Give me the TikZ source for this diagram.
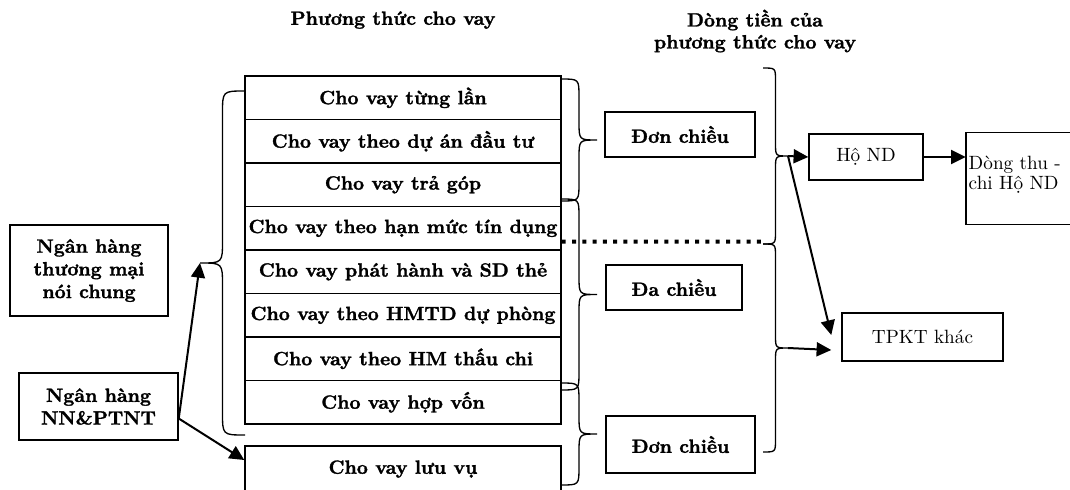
\documentclass[tikz,border=0pt]{standalone}
\usepackage{fontspec}
\setmainfont{lmroman10-regular.otf}[BoldFont=lmroman10-bold.otf,FakeStretch=1.0,BoldFeatures={FakeBold=1.5}]
\usetikzlibrary{arrows.meta}
\tikzset{
  box/.style={draw, line width=1.1pt, inner sep=0pt, align=center, font=\fontsize{14.4}{17}\selectfont\bfseries},
  nbox/.style={draw, line width=1.1pt, inner sep=0pt, align=center, font=\fontsize{14.4}{15}\selectfont},
  row/.style={box, minimum width=237pt, minimum height=32.625pt},
  ttl/.style={align=center, inner sep=0pt, font=\fontsize{14.4}{16.5}\selectfont\bfseries},
  brace/.style={line width=1pt},
  conn/.style={line width=1.5pt, -{Triangle[length=11pt,width=10.5pt]}},
  dotline/.style={line width=3pt, dash pattern=on 3pt off 4.7pt},
}
\newcommand{\MyBrace}[5]{%
  \pgfmathsetmacro{\bxv}{(#1+#4)/2}%
  \pgfmathsetmacro{\bym}{(#2+#3)/2}%
  \pgfmathsetmacro{\br}{abs(#4-#1)/2}%
  \draw[brace] (#1,#2) .. controls ({\bxv},#2) .. ({\bxv},{#2+\br}) -- ({\bxv},{\bym-\br})
     .. controls ({\bxv},{\bym}) .. (#4,{\bym}) .. controls ({\bxv},{\bym}) .. ({\bxv},{\bym+\br})
     -- ({\bxv},{#3-\br}) .. controls ({\bxv},#3) .. (#1,#3);
  \coordinate (#5) at (#4,{\bym});}
\begin{document}
\begin{tikzpicture}[x=0.75pt,y=-0.75pt]
\useasboundingbox (0,0) rectangle (1070,489);
\clip (0,0) rectangle (1070,489);
% titles
\node[ttl] (t1) at (393,20) {Phương thức cho vay};
\node[ttl] (t2) at (755,31) {Dòng tiền của\\phương thức cho vay};
% banks
\node[box, minimum width=118.5pt, minimum height=68.25pt] (tm) at (89,270.5) {Ngân hàng\\thương mại\\nói chung};
\node[box, minimum width=119.25pt, minimum height=50.25pt] (nn) at (98.5,406.5) {Ngân hàng\\NN\&PTNT};
% table rows
\node[row] (r1) at (403,97.75) {Cho vay từng lần};
\node[row] (r2) at (403,141.25) {Cho vay theo dự án đầu tư};
\node[row] (r3) at (403,184.75) {Cho vay trả góp};
\node[row] (r4) at (403,228.25) {Cho vay theo hạn mức tín dụng};
\node[row] (r5) at (403,271.75) {Cho vay phát hành và SD thẻ};
\node[row] (r6) at (403,315.25) {Cho vay theo HMTD dự phòng};
\node[row] (r7) at (403,358.75) {Cho vay theo HM thấu chi};
\node[row] (r8) at (403,402.25) {Cho vay hợp vốn};
\node[box, minimum width=237pt, minimum height=34.5pt] (r9) at (403,469) {Cho vay lưu vụ};
% flow type boxes
\node[box, minimum width=112.5pt, minimum height=33.75pt] (d1) at (680,134.5) {Đơn chiều};
\node[box, minimum width=102pt, minimum height=33.75pt] (da) at (674,287.5) {Đa chiều};
\node[box, minimum width=111.75pt, minimum height=42.75pt] (d2) at (680.5,444.5) {Đơn chiều};
% recipients
\node[nbox, minimum width=85.5pt, minimum height=34.5pt] (hond) at (866,157) {Hộ ND};
\node[nbox, minimum width=120.75pt, minimum height=36pt] (tpkt) at (922.5,337) {TPKT khác};
\node[inner sep=0pt, minimum width=130pt, minimum height=68.25pt] (dt) at (1052.7,178.5) {};
\draw[line width=1.1pt] (dt.north east) -- (dt.north west) -- (dt.south west) -- (dt.south east);
\node[nbox, draw=none, anchor=north west, align=left, inner sep=0pt] (dttext) at (968,155) {Dòng thu -\\chi Hộ ND};
% braces
\MyBrace{245}{91}{435}{200}{lbt}
\MyBrace{561}{79}{201}{597}{b1t}
\MyBrace{561}{199}{390}{597}{b2t}
\MyBrace{561}{383}{485}{597}{b3t}
\MyBrace{763}{68}{244}{788}{but}
\MyBrace{763}{244}{452}{788}{blt}
% dotted line
\coordinate (dotend) at (763,241.5);
\draw[dotline] ([yshift=-10pt]r4.east) -- (dotend);
% connectors
\draw[conn] ([yshift=-9pt]nn.east) -- (lbt);
\draw[conn] ([yshift=-9pt]nn.east) -- ([yshift=6.75pt]r9.west);
\draw[conn] (but) -- (hond.west);
\draw[conn] (but) -- ([xshift=-7.5pt,yshift=1.5pt]tpkt.west);
\draw[conn] (blt) -- ([xshift=-7.5pt,yshift=-9.75pt]tpkt.west);
\draw[conn] (hond.east) -- (hond.east -| dt.west);
\end{tikzpicture}
\end{document}
